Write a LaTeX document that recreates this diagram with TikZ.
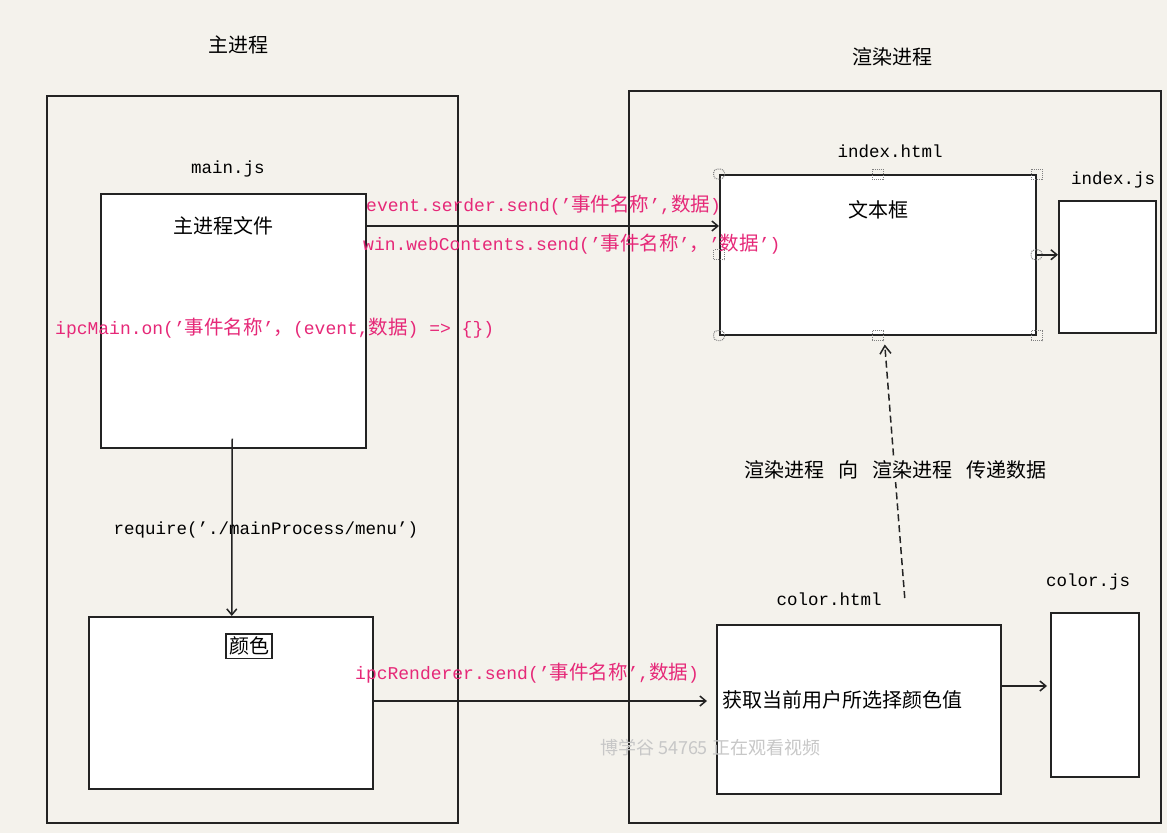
\documentclass[tikz,border=0pt]{standalone}
\usepackage{fontspec}
\usetikzlibrary{arrows.meta,calc}
\newfontfamily\cjk{Noto Sans CJK SC}
\newfontfamily\mono{Liberation Mono}
\definecolor{bg}{RGB}{244,242,236}
\definecolor{pinkc}{RGB}{230,40,120}
\definecolor{edge}{RGB}{35,35,35}
\newcommand\zh[1]{{\cjk\fontsize{19.5}{22}\selectfont #1}}
\tikzset{
 box/.style={draw=edge, line width=1.5pt, fill=white, anchor=north west, inner sep=0pt},
 frame/.style={draw=edge, line width=1.5pt, anchor=north west, inner sep=0pt},
 cjklabel/.style={font=\cjk\fontsize{20}{24}\selectfont, text=black, inner sep=1pt},
 monolabel/.style={font=\mono\fontsize{17.5}{20}\selectfont, text=black, inner sep=1pt},
 pinklabel/.style={font=\mono\fontsize{18}{20}\selectfont, text=pinkc, anchor=west, inner sep=0pt},
 arr/.style={line width=1.5pt, draw=edge, -{Straight Barb[length=6pt,width=10pt,line width=1.5pt]}},
 handle/.style={draw=gray, densely dotted, line width=1pt, minimum width=11pt, minimum height=10pt, inner sep=0pt},
}
\begin{document}
\begin{tikzpicture}[x=1pt,y=-1pt]
\fill[bg] (0,0) rectangle (1167,833);
\useasboundingbox (0,0) rectangle (1167,833);

% titles
\node[cjklabel] (tmain) at (238,45) {主进程};
\node[cjklabel] (trender) at (892,57) {渲染进程};

% big frames
\node[frame, minimum width=411pt, minimum height=727pt] (lbig) at (46,95) {};
\node[frame, minimum width=532pt, minimum height=732pt] (rbig) at (628,90) {};

% boxes
\node[box, minimum width=265pt, minimum height=254pt] (mainbox) at (100,193) {};
\node[box, minimum width=316pt, minimum height=160pt] (indexbox) at (719,174) {};
\node[box, minimum width=97pt, minimum height=132pt] (indexjs) at (1058,200) {};
\node[box, minimum width=284pt, minimum height=172pt] (menubox) at (88,616) {};
\node[box, minimum width=284pt, minimum height=169pt] (colorbox) at (716,624) {};
\node[box, minimum width=88pt, minimum height=164pt] (colorjs) at (1050,612) {};

% selection handles
\foreach \a/\n/\r in {north west/h1/4pt, north/h2/0pt, north east/h3/0pt, west/h4/0pt, east/h5/4pt, south west/h6/4pt, south/h7/0pt, south east/h8/0pt}
  \node[handle, rounded corners=\r] (\n) at (indexbox.\a) {};

% box labels
\node[monolabel] (lmainjs) at (228,169) {main.js};
\node[monolabel] (lindexhtml) at (890,151) {index.html};
\node[monolabel] (lindexjs) at (1113,180) {index.js};
\node[monolabel] (lcolorhtml) at (829,599) {color.html};
\node[monolabel] (lcolorjs) at (1088,582) {color.js};

\node[cjklabel] (tmainfile) at (223,226) {主进程文件};
\node[cjklabel] (ttextbox) at (878,210) {文本框};
\node[cjklabel, anchor=west] (tcolorval) at (721,700) {获取当前用户所选择颜色值};
\node[cjklabel, draw=edge, line width=1.5pt, inner sep=3pt] (tcolor) at (249,646) {颜色};

% arrows
\draw[arr] ($(mainbox.north east)+(0,33)$) -- ($(indexbox.north west)+(0,52)$);
\draw[arr] (indexbox.east) -- (indexbox.east -| indexjs.west);
\draw[arr] ($(mainbox.south)+(-1,-10)$) -- ($(menubox.north)+(1,0)$);
\draw[arr] ($(menubox.north east)+(0,85)$) -- ($(colorbox.north west)+(-9,77)$);
\draw[arr] ($(colorbox.north east)+(0,62)$) -- ($(colorjs.north west)+(-3,74)$);
\draw[line width=1.5pt, draw=edge, dash pattern=on 7pt off 4pt, -{Straight Barb[length=8pt,width=11pt,line width=1.5pt]}]
  ($(colorbox.north)+(46,-26)$) -- ($(indexbox.south)+(7,9)$);

\node[cjklabel, fill=bg, inner sep=3pt] (tpass) at (895,470) {渲染进程\hspace{14pt}向\hspace{14pt}渲染进程\hspace{14pt}传递数据};

% code labels
\node[monolabel] (lrequire) at (266,530) {require(’./mainProcess/menu’)};
\node[pinklabel] (p1) at (366,205) {event.serder.send(’\zh{事件名称}’,\zh{数据})};
\node[pinklabel] (p2) at (363,244) {win.webContents.send(’\zh{事件名称}’\zh{，}’\zh{数据}’)};
\node[pinklabel] (p3) at (55,328) {ipcMain.on(’\zh{事件名称}’\zh{，}(event,\zh{数据}) => \{\})};
\node[pinklabel] (p4) at (355,673) {ipcRenderer.send(’\zh{事件名称}’,\zh{数据})};

% watermark
\node[font=\cjk\fontsize{18}{22}\selectfont, text=black!22] (wm) at (710,748) {博学谷 54765 正在观看视频};
\end{tikzpicture}
\end{document}
